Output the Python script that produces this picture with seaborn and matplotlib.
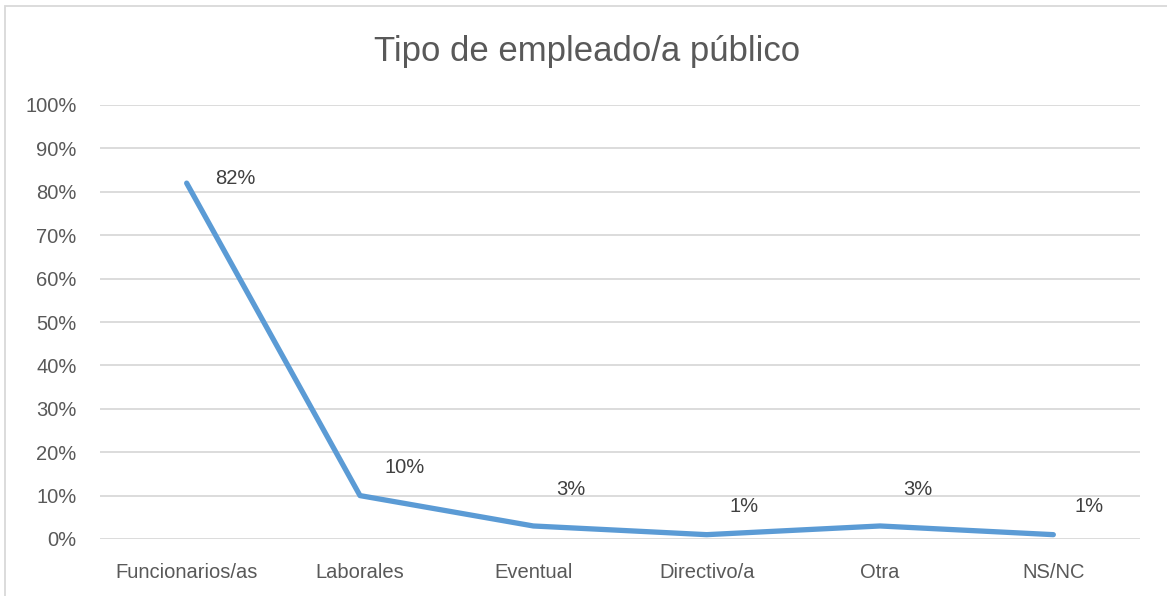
import matplotlib
matplotlib.use("Agg")
import matplotlib.pyplot as plt
import seaborn as sns
import pandas as pd
from matplotlib.patches import Rectangle
from matplotlib.ticker import FuncFormatter

categories = ["Funcionarios/as", "Laborales", "Eventual", "Directivo/a", "Otra", "NS/NC"]
values = [82, 10, 3, 1, 3, 1]
label_offsets = [(35, 3), (32, 20), (27, 26), (27, 20), (27, 26), (26, 20)]

sns.set_theme(style="white")
plt.rcParams['font.family'] = ['Liberation Sans', 'DejaVu Sans']
text_color = "#595959"

df = pd.DataFrame({"cat": categories, "val": values})

fig = plt.figure(figsize=(11.67, 5.96), dpi=100)
ax = fig.add_axes([100/1167, 1 - 539/596, 1040/1167, (539-105)/596])

sns.lineplot(data=df, x="cat", y="val", ax=ax, color="#5B9BD5", linewidth=3.8,
             sort=False, solid_capstyle="round")

ax.set_xlim(-0.5, len(categories) - 0.5)
ax.set_ylim(0, 100)
ax.set_yticks(range(0, 101, 10))
ax.yaxis.set_major_formatter(FuncFormatter(lambda v, p: f"{int(v)}%"))
ax.grid(axis="y", color="#D9D9D9", linewidth=1.3)
ax.set_axisbelow(True)
for s in ax.spines.values():
    s.set_visible(False)
ax.tick_params(axis="both", length=0, labelsize=14.5, colors=text_color)
ax.tick_params(axis="x", pad=17)
ax.tick_params(axis="y", pad=17)
ax.set_xlabel("")
ax.set_ylabel("")

for i, (v, off) in enumerate(zip(values, label_offsets)):
    ax.annotate(f"{v}%", (i, v), xytext=off, textcoords="offset points",
                ha="center", va="center", fontsize=14.5, color="#404040")

fig.text(587/1167, 1 - 51/596, "Tipo de empleado/a público", ha="center", va="center",
         fontsize=25, color=text_color)

fig.patches.append(Rectangle((5/1167, -0.1), 1.2, 1 - 6/596 + 0.1, transform=fig.transFigure,
                             fill=False, edgecolor="#D9D9D9", linewidth=1.3))

fig.savefig("out.png", dpi=100)
